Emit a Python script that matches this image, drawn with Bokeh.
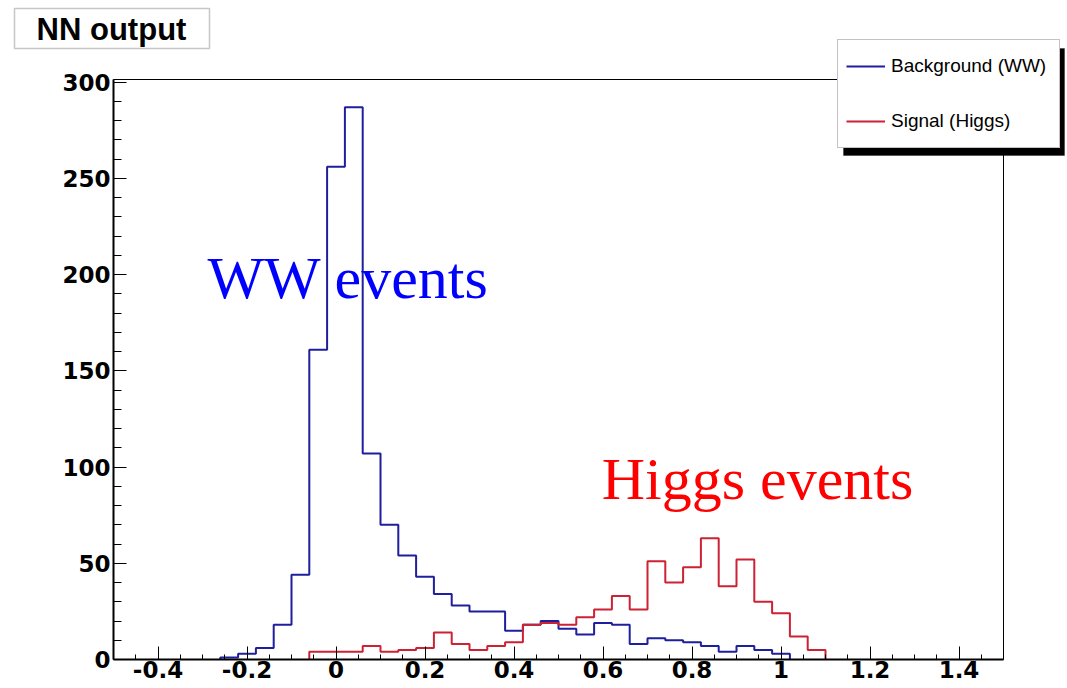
import numpy as np
from bokeh.plotting import figure
from bokeh.models import (FixedTicker, Legend, LegendItem, Label, BoxAnnotation, Range1d,
                          LinearAxis)
from bokeh.embed import file_html
from bokeh.resources import INLINE

# ---- data -------------------------------------------------------------
title_text = "NN output"
bin_low, bin_high, n_bins = -0.5, 1.5, 50

background_ww = [0, 0, 0, 0, 0, 0,
                 1, 3, 6, 18, 44, 161, 256, 287, 107, 70,
                 54, 43, 34, 28, 25, 25, 15, 18, 20, 16,
                 13, 19, 18, 8, 11, 10, 9, 7, 4, 7, 5, 3,
                 0, 0, 0, 0, 0, 0, 0, 0, 0, 0, 0, 0]
signal_higgs = [0, 0, 0, 0, 0, 0, 0, 0, 0, 0, 0,
                4, 4, 4, 7, 4, 5, 6, 14, 8, 5,
                7, 9, 18, 19, 18, 22, 26, 33, 26, 51,
                40, 48, 63, 38, 52, 30, 24, 12, 5,
                0, 0, 0, 0, 0, 0, 0, 0, 0, 0]
series_labels = ["Background (WW)", "Signal (Higgs)"]
annot_labels = ["WW events", "Higgs events"]

x_ticks = [-0.4, -0.2, 0.0, 0.2, 0.4, 0.6, 0.8, 1.0, 1.2, 1.4]
x_tick_labels = ["-0.4", "-0.2", "0", "0.2", "0.4", "0.6", "0.8", "1", "1.2", "1.4"]
y_ticks = [0, 50, 100, 150, 200, 250, 300]
y_tick_labels = ["0", "50", "100", "150", "200", "250", "300"]
y_max = 301.4

# ---- helpers ------------------------------------------------------------
edges = np.linspace(bin_low, bin_high, n_bins + 1)


def outline(values):
    nz = [i for i, v in enumerate(values) if v > 0]
    a, b = nz[0], nz[-1]
    xs, ys = [edges[a]], [0]
    for i in range(a, b + 1):
        xs += [edges[i], edges[i + 1]]
        ys += [values[i], values[i]]
    xs.append(edges[b + 1])
    ys.append(0)
    return xs, ys


# ---- page geometry (pixels) -------------------------------------------------
W, H = 1067, 688
AX_L, AX_R, AX_T, AX_B = 113, 1003, 79, 659      # histogram box on the page
px_per_x = (AX_R - AX_L) / (bin_high - bin_low)
px_per_y = (AX_B - AX_T) / y_max
x0 = bin_low - AX_L / px_per_x
x1 = bin_high + (W - AX_R) / px_per_x
y0 = -(H - AX_B) / px_per_y
y1 = y_max + AX_T / px_per_y

p = figure(width=W, height=H, min_border=0,
           x_range=Range1d(x0, x1), y_range=Range1d(y0, y1),
           x_axis_location=None, y_axis_location=None,
           output_backend="svg", toolbar_location=None)
p.background_fill_color = "white"
p.border_fill_color = "white"
p.outline_line_color = None
p.xgrid.visible = False
p.ygrid.visible = False

# frame box of the histogram area
p.quad(left=bin_low, right=bin_high, bottom=0, top=y_max,
       fill_color=None, line_color="black", line_width=1)

bx, by = outline(background_ww)
sx, sy = outline(signal_higgs)
r_bg = p.line(bx, by, line_color="#1f1f9e", line_width=2)
r_sig = p.line(sx, sy, line_color="#cc2233", line_width=2)

# axes
xminor = [round(t, 3) for t in np.arange(bin_low, bin_high + 1e-9, 0.05)]
xaxis = LinearAxis(fixed_location=0, bounds=(bin_low, bin_high),
                   ticker=FixedTicker(ticks=x_ticks, minor_ticks=xminor),
                   major_label_overrides={t: l for t, l in zip(x_ticks, x_tick_labels)})
yminor = list(range(0, 301, 10))
yaxis = LinearAxis(fixed_location=bin_low, bounds=(0, y_max),
                   ticker=FixedTicker(ticks=y_ticks, minor_ticks=yminor),
                   major_label_overrides={t: l for t, l in zip(y_ticks, y_tick_labels)})

for ax in (xaxis, yaxis):
    ax.axis_line_color = "black"
    ax.axis_line_width = 2
    ax.major_tick_out = 0
    ax.minor_tick_out = 0
    ax.major_tick_line_color = "black"
    ax.minor_tick_line_color = "black"
    ax.major_tick_line_width = 1
    ax.minor_tick_line_width = 1
    ax.major_label_text_font = "DejaVu Sans"
    ax.major_label_text_font_style = "bold"
    ax.major_label_text_color = "black"
    ax.major_label_text_font_size = "23px"

xaxis.major_tick_in = 13
xaxis.minor_tick_in = 5
xaxis.major_label_standoff = 1
yaxis.major_tick_in = 13
yaxis.minor_tick_in = 8
yaxis.major_label_standoff = 3
p.add_layout(xaxis, "below")
p.add_layout(yaxis, "left")

# annotations
p.add_layout(Label(x=-0.289, y=198, text=annot_labels[0], text_font="Liberation Serif",
                   text_font_size="60px", text_color="#0000ff", text_baseline="alphabetic"))
p.add_layout(Label(x=0.597, y=94, text=annot_labels[1], text_font="Liberation Serif",
                   text_font_size="60px", text_color="#ff0000", text_baseline="alphabetic"))

# title box
p.add_layout(BoxAnnotation(left=14, right=209, top=H - 8, bottom=H - 48,
                           left_units="screen", right_units="screen",
                           top_units="screen", bottom_units="screen",
                           fill_color="white", fill_alpha=1.0,
                           line_color="#444444", line_width=1.5))
p.add_layout(Label(x=111, y=H - 29, x_units="screen", y_units="screen",
                   text=title_text, text_font="Liberation Sans", text_font_style="bold",
                   text_font_size="31px", text_color="black",
                   text_align="center", text_baseline="middle"))

# legend shadow + legend
p.add_layout(BoxAnnotation(left=843, right=1064, top=H - 48, bottom=H - 155,
                           left_units="screen", right_units="screen",
                           top_units="screen", bottom_units="screen",
                           fill_color="black", fill_alpha=1.0, line_color="black"))
legend = Legend(items=[LegendItem(label=series_labels[0], renderers=[r_bg]),
                       LegendItem(label=series_labels[1], renderers=[r_sig])],
                location=(837, H - 148),
                padding=8, spacing=19, margin=0,
                glyph_width=39, glyph_height=36, label_height=36, label_width=160,
                label_standoff=6,
                label_text_font="Liberation Sans", label_text_font_size="19px",
                label_text_color="black",
                border_line_color="#888888", border_line_width=1,
                background_fill_color="white", background_fill_alpha=1.0)
p.add_layout(legend)

open("out.html", "w").write(file_html(p, INLINE))
